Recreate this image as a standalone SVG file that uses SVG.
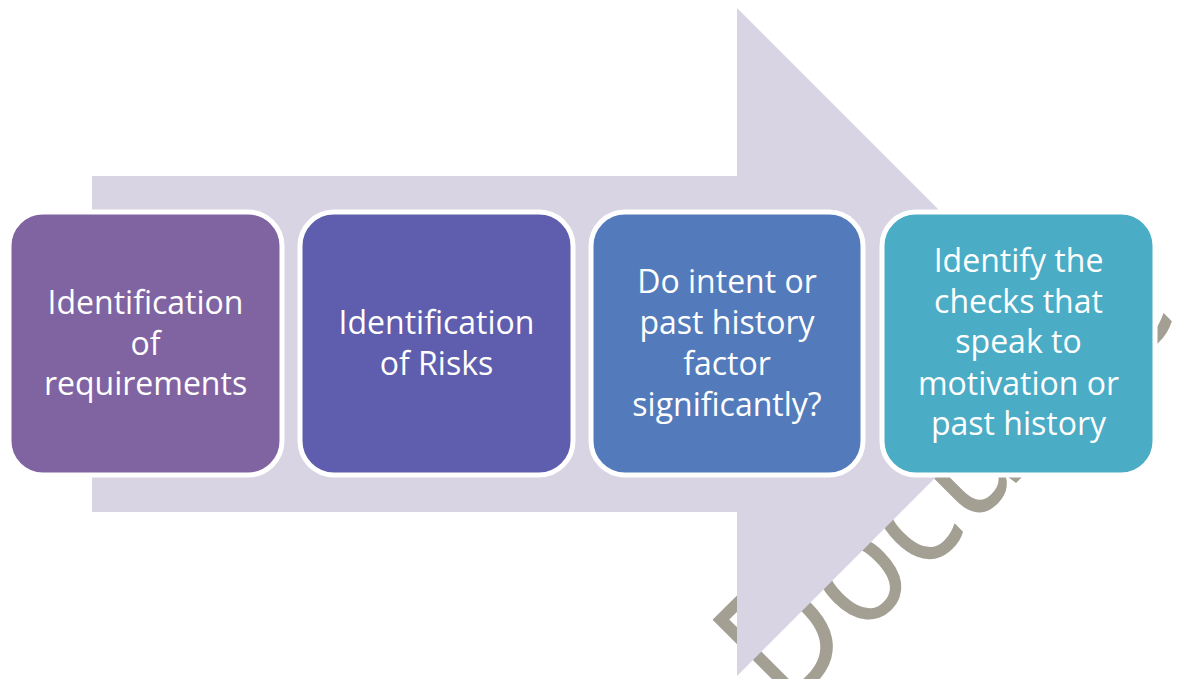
<svg xmlns="http://www.w3.org/2000/svg" width="1177" height="679" viewBox="0 0 1177 679">
  <style>
    .box { stroke: #ffffff; stroke-width: 5; }
    .label { font-family: "Open Sans", "Noto Sans", sans-serif; font-size: 32px; fill: #ffffff; text-anchor: middle; }
    .mark { font-family: "Open Sans", "Noto Sans", sans-serif; font-size: 165px; fill: #a39f92; }
  </style>

  <!-- faint watermark underneath everything -->
  <text class="mark" transform="translate(786 713) rotate(-45) scale(0.87 1)">Docume</text>

  <!-- big process arrow in the background -->
  <path id="process-arrow" d="M92 176 H737 V8 L1071 342 L737 676 V512 H92 Z" fill="#d8d4e3"/>

  <g id="step-requirements">
    <rect class="box" x="9" y="212" width="273" height="263" rx="34" fill="#8064a2"/>
    <text class="label"><tspan x="145.5" y="314">Identification</tspan><tspan x="145.5" y="355">of</tspan><tspan x="145.5" y="395">requirements</tspan></text>
  </g>

  <g id="step-risks">
    <rect class="box" x="300" y="212" width="273" height="263" rx="34" fill="#5f5dad"/>
    <text class="label"><tspan x="436.5" y="334">Identification</tspan><tspan x="436.5" y="375">of Risks</tspan></text>
  </g>

  <g id="step-intent">
    <rect class="box" x="591" y="212" width="272" height="263" rx="34" fill="#537bbb"/>
    <text class="label"><tspan x="727" y="293">Do intent or</tspan><tspan x="727" y="334">past history</tspan><tspan x="727" y="375">factor</tspan><tspan x="727" y="416">significantly?</tspan></text>
  </g>

  <g id="step-checks">
    <rect class="box" x="882" y="212" width="273" height="263" rx="34" fill="#4bacc6"/>
    <text class="label"><tspan x="1018.5" y="272">Identify the</tspan><tspan x="1018.5" y="313">checks that</tspan><tspan x="1018.5" y="353">speak to</tspan><tspan x="1018.5" y="395">motivation or</tspan><tspan x="1018.5" y="435">past history</tspan></text>
  </g>

  <g id="connectors"></g>
</svg>
